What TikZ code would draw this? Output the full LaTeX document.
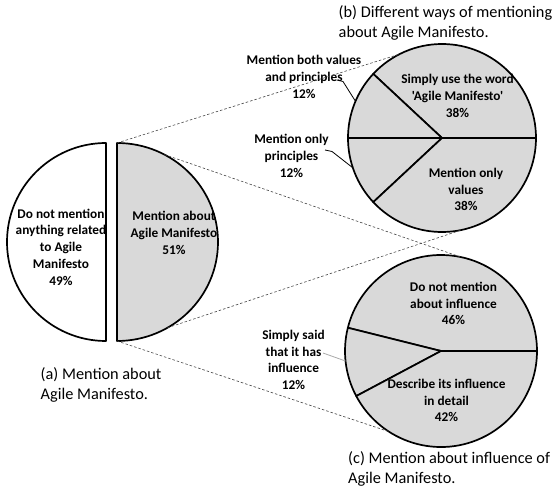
\documentclass[tikz,border=0pt]{standalone}
\usepackage{fontspec}
\setmainfont{Carlito}[Ligatures=TeXOff]
\usetikzlibrary{calc}
\definecolor{piegray}{RGB}{217,217,217}
\definecolor{leadgray}{RGB}{170,170,170}
\definecolor{dashgray}{RGB}{70,70,70}
\begin{document}
\begin{tikzpicture}[x=1pt,y=1pt,
  slice/.style={draw=black, line width=1.7pt, fill=piegray, line join=round},
  blankslice/.style={draw=black, line width=1.7pt, fill=white, line join=round},
  zoomline/.style={draw=dashgray, line width=0.6pt, dash pattern=on 2.5pt off 2pt},
  leader/.style={draw=black, line width=0.8pt},
  softleader/.style={draw=leadgray, line width=0.8pt},
  lbl/.style={font=\fontsize{13.3}{16.7}\selectfont\bfseries, align=center, inner sep=0pt},
  captiontext/.style={font=\fontsize{16.3}{20}\selectfont, align=left, anchor=west, inner sep=0pt}
]
\useasboundingbox (0,0) rectangle (557,-489);

% ---- (a) exploded two-slice pie ----
\coordinate (ac) at (117,-242);  % centre of the shaded slice
\coordinate (wc) at (106,-242);  % centre of the white slice
\draw[blankslice] (106,-143) -- (106,-341) arc[start angle=-90, end angle=-270, radius=99] -- cycle;
\draw[slice] (117,-143) arc[start angle=90, end angle=-90, x radius=101, y radius=99] -- cycle;
\coordinate (atop) at (117,-143);
\coordinate (abot) at (117,-341);
\coordinate (aup) at ($(ac)+(62:101 and 99)$);
\coordinate (alow) at ($(ac)+(-60:101 and 99)$);

\node[lbl] (aw) at (61,-247) {Do not mention\\anything related\\to Agile\\Manifesto\\49\%};
\node[lbl] (ag) at (174,-233) {Mention about\\Agile Manifesto\\51\%};
\node[captiontext] (acap) at (40.5,-385) {(a) Mention about\\Agile Manifesto.};

% ---- (b) ways of mentioning ----
\coordinate (bc) at (442,-138);
\def\rb{94}
\draw[slice] (bc) -- ++(0:\rb) arc[start angle=0, end angle=137, radius=\rb] -- cycle;
\draw[slice] (bc) -- ++(137:\rb) arc[start angle=137, end angle=180, radius=\rb] -- cycle;
\draw[slice] (bc) -- ++(180:\rb) arc[start angle=180, end angle=223, radius=\rb] -- cycle;
\draw[slice] (bc) -- ++(223:\rb) arc[start angle=223, end angle=360, radius=\rb] -- cycle;
\coordinate (btop) at ($(bc)+(117:\rb)$);
\coordinate (bbot) at ($(bc)+(-78:\rb)$);

\node[lbl] (bword) at (457.5,-96) {Simply use the word\\'Agile Manifesto'\\38\%};
\node[lbl] (bvals) at (466,-189.5) {Mention only\\values\\38\%};
\node[lbl] (bboth) at (304,-77) {Mention both values\\and principles\\12\%};
\node[lbl] (bprin) at (291.5,-156) {Mention only\\principles\\12\%};
\node[captiontext] (bcap) at (338.5,-23) {(b) Different ways of mentioning\\about Agile Manifesto.};

\coordinate (lb1) at (337,-80);
\coordinate (lb1k) at (343,-81.5);
\coordinate (lb1e) at ($(bc)+(157:\rb)$);
\draw[leader] (lb1) -- (lb1k) -- (lb1e);
\coordinate (lb2) at (325,-150);
\coordinate (lb2k) at (332,-151.5);
\coordinate (lb2e) at ($(bc)+(198.5:\rb)$);
\draw[leader] (lb2) -- (lb2k) -- (lb2e);

% ---- (c) influence ----
\coordinate (cc) at (441,-351);
\def\rc{96}
\draw[slice] (cc) -- ++(0:\rc) arc[start angle=0, end angle=166, radius=\rc] -- cycle;
\draw[slice] (cc) -- ++(166:\rc) arc[start angle=166, end angle=208, radius=\rc] -- cycle;
\draw[slice] (cc) -- ++(208:\rc) arc[start angle=208, end angle=360, radius=\rc] -- cycle;
\coordinate (ctop) at ($(cc)+(78:\rc)$);
\coordinate (cbot) at ($(cc)+(237:\rc)$);

\node[lbl] (cnot) at (453.5,-303.5) {Do not mention\\about influence\\46\%};
\node[lbl] (cdesc) at (446.5,-400.5) {Describe its influence\\in detail\\42\%};
\node[lbl] (csaid) at (293.5,-360) {Simply said\\that it has\\influence\\12\%};
\node[captiontext] (ccap) at (348,-468.5) {(c) Mention about influence of\\Agile Manifesto.};

\coordinate (lc1) at (323,-353);
\coordinate (lc1e) at ($(cc)+(186:\rc)$);
\draw[softleader] (lc1) -- (lc1e);

% ---- dashed zoom lines from the shaded slice ----
\draw[zoomline] (atop) -- (btop);
\draw[zoomline] (aup) -- (ctop);
\draw[zoomline] (alow) -- (bbot);
\draw[zoomline] (abot) -- (cbot);
\end{tikzpicture}
\end{document}
